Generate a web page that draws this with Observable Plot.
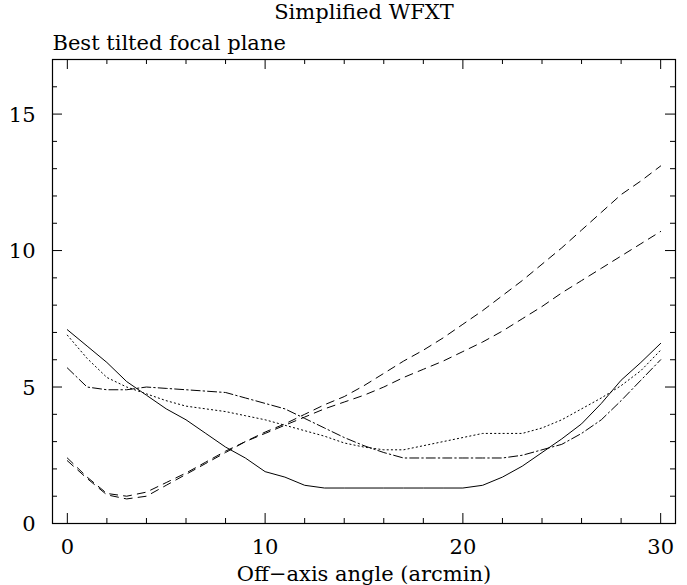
<!DOCTYPE html>
<html>
<head>
<meta charset="utf-8">
<script src="https://cdn.jsdelivr.net/npm/d3@7"></script>
<script src="https://cdn.jsdelivr.net/npm/@observablehq/plot@0.6"></script>
<style>
  html, body { margin: 0; padding: 0; background: #fff; }
  #chart svg { display: block; }
</style>
</head>
<body>
<div id="chart"></div>
<script>
const angles = [0,1,2,3,4,5,6,7,8,9,10,11,12,13,14,15,16,17,18,19,20,21,22,23,24,25,26,27,28,29,30];
const solid = [7.1,6.5,5.9,5.2,4.7,4.2,3.8,3.3,2.8,2.4,1.9,1.7,1.4,1.3,1.3,1.3,1.3,1.3,1.3,1.3,1.3,1.4,1.7,2.1,2.6,3.1,3.65,4.4,5.25,5.9,6.6];
const dotted = [6.9,6.05,5.35,5.0,4.75,4.5,4.3,4.2,4.1,3.95,3.8,3.6,3.4,3.2,2.95,2.8,2.7,2.7,2.85,3.0,3.15,3.3,3.3,3.3,3.5,3.8,4.2,4.6,5.05,5.6,6.35];
const dashdot = [5.7,5.0,4.9,4.9,5.0,4.95,4.9,4.85,4.8,4.6,4.4,4.2,3.85,3.5,3.15,2.85,2.6,2.4,2.4,2.4,2.4,2.4,2.4,2.5,2.7,2.9,3.3,3.8,4.5,5.25,6.0];
const dashedUpper = [2.4,1.7,1.1,1.0,1.15,1.5,1.85,2.25,2.65,3.0,3.35,3.65,4.0,4.35,4.65,5.05,5.5,5.95,6.35,6.8,7.3,7.8,8.35,8.9,9.5,10.1,10.75,11.4,12.05,12.55,13.1];
const dashedLower = [2.3,1.65,1.05,0.9,1.0,1.4,1.8,2.2,2.6,3.0,3.3,3.6,3.9,4.2,4.45,4.7,5.0,5.35,5.65,5.95,6.3,6.65,7.05,7.5,7.95,8.45,8.9,9.35,9.8,10.25,10.7];

const xMajorTicks = [0,10,20,30];
const xMinorTicks = [2,4,6,8,12,14,16,18,22,24,26,28];
const yMajorTicks = [0,5,10,15];
const yMinorTicks = [1,2,3,4,6,7,8,9,11,12,13,14,16];
const xTickLabels = [0,10,20,30];
const yTickLabels = [0,5,10,15];

const title = "Simplified WFXT";
const subtitle = "Best tilted focal plane";
const xLabel = "Off\u2212axis angle (arcmin)";

const W = 687, H = 585;
const mL = 52, mR = 12, mT = 59, mB = 62;
const innerW = W - mL - mR, innerH = H - mT - mB;

const toRows = (ys) => angles.map((a, i) => ({x: a, y: ys[i]}));
const font = "DejaVu Serif";
const fs = 21;

const lineStyle = (ys, dash) => Plot.line(toRows(ys), {x: "x", y: "y", stroke: "#000", strokeWidth: 1, strokeDasharray: dash});

const plot = Plot.plot({
  width: W, height: H,
  marginLeft: mL, marginRight: mR, marginTop: mT, marginBottom: mB,
  style: {fontFamily: font, fontSize: fs + "px", background: "#fff", color: "#000"},
  x: {domain: [-0.75, 30.75], axis: null},
  y: {domain: [0, 17], axis: null},
  marks: [
    lineStyle(solid, null),
    lineStyle(dotted, "1.2,3"),
    lineStyle(dashdot, "9,3,1.5,3"),
    lineStyle(dashedUpper, "8,6"),
    lineStyle(dashedLower, "8,6"),
    // ticks bottom/top
    Plot.tickX(xMajorTicks, {x: d => d, stroke: "#000", insetTop: innerH - 10}),
    Plot.tickX(xMinorTicks, {x: d => d, stroke: "#000", insetTop: innerH - 5}),
    Plot.tickX(xMajorTicks, {x: d => d, stroke: "#000", insetBottom: innerH - 10}),
    Plot.tickX(xMinorTicks, {x: d => d, stroke: "#000", insetBottom: innerH - 5}),
    // ticks left/right
    Plot.tickY(yMajorTicks, {y: d => d, stroke: "#000", insetRight: innerW - 10}),
    Plot.tickY(yMinorTicks, {y: d => d, stroke: "#000", insetRight: innerW - 5}),
    Plot.tickY(yMajorTicks, {y: d => d, stroke: "#000", insetLeft: innerW - 10}),
    Plot.tickY(yMinorTicks, {y: d => d, stroke: "#000", insetLeft: innerW - 5}),
    Plot.frame({stroke: "#000", strokeWidth: 1.2}),
    // tick labels
    Plot.text(xTickLabels, {x: d => d, text: d => String(d), frameAnchor: "bottom", lineAnchor: "middle", dy: 24, fill: "#000"}),
    Plot.text(yTickLabels, {y: d => d, text: d => String(d), frameAnchor: "left", lineAnchor: "middle", textAnchor: "end", dx: -17, dy: 1, fill: "#000"}),
    // titles
    Plot.text([title], {text: d => d, frameAnchor: "top", lineAnchor: "middle", dy: -47, fill: "#000"}),
    Plot.text([subtitle], {text: d => d, frameAnchor: "top-left", lineAnchor: "middle", textAnchor: "start", dy: -16, fill: "#000"}),
    Plot.text([xLabel], {text: d => d, frameAnchor: "bottom", lineAnchor: "middle", dy: 51, fill: "#000"})
  ]
});
document.getElementById("chart").appendChild(plot);
</script>
</body>
</html>
